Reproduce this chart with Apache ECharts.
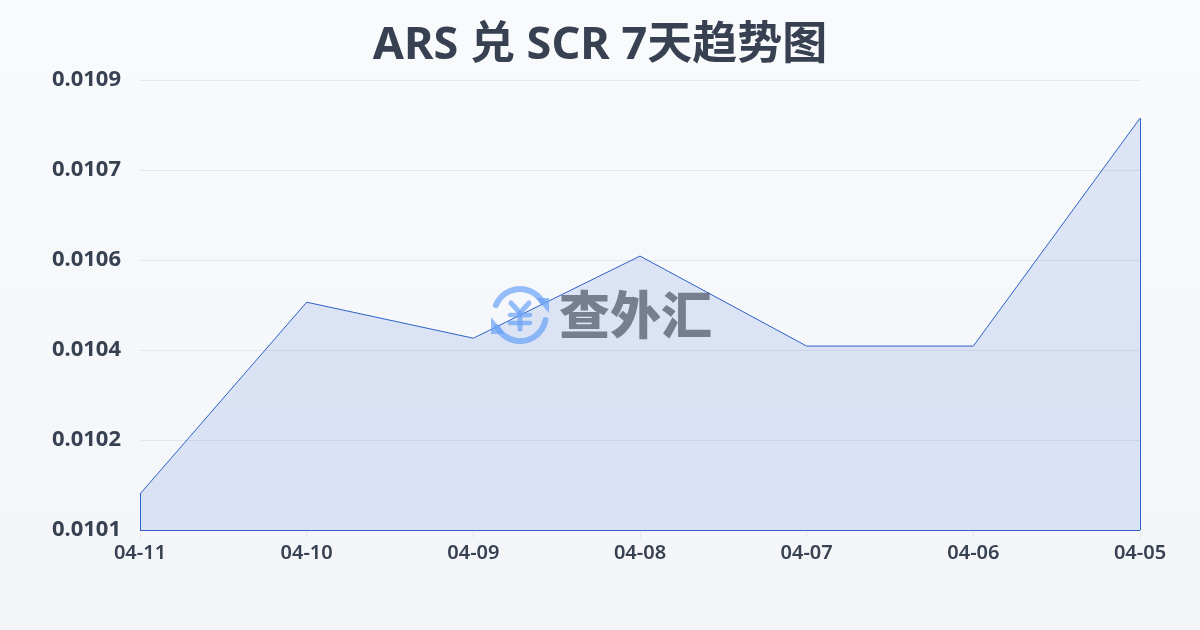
<!DOCTYPE html>
<html><head><meta charset="utf-8">
<style>html,body{margin:0;padding:0;background:#f6f7f9}#c{width:1200px;height:630px}</style>
<script src="https://cdn.jsdelivr.net/npm/echarts@6/dist/echarts.min.js"></script>
</head><body><div id="c"></div>
<script>
const titleText = 'ARS 兑 SCR 7天趋势图';
const dates = ['04-11','04-10','04-09','04-08','04-07','04-06','04-05'];
const rates = [0.010144,0.010485,0.010421,0.010567,0.010407,0.010407,0.010812];
const axisMin = 0.01008, axisMax = 0.01088, axisStep = 0.00016;
const watermark = '查外汇';
const lineColor = '#2d62c8', labelColor = '#374151';
const last = dates.length - 1;
const font = '"Noto Sans","Noto Sans CJK SC",sans-serif';
const chart = echarts.init(document.getElementById('c'), null, {renderer:'canvas'});
const iconBlue = 'rgba(105,162,247,0.7)';
chart.setOption({
  animation:false,
  backgroundColor:{type:'linear',x:0,y:0,x2:0,y2:1,colorStops:[{offset:0,color:'#f9fafc'},{offset:1,color:'#f3f5f8'}]},
  title:{text:titleText,left:'center',top:19,textStyle:{fontSize:45,fontWeight:700,color:labelColor,fontFamily:font}},
  grid:{left:140,right:60,top:80,bottom:100},
  xAxis:{type:'category',data:dates,boundaryGap:false,
    axisLine:{show:false},
    axisTick:{show:true,length:8,lineStyle:{color:'#e5e7eb'}},
    axisLabel:{color:labelColor,fontSize:20,fontWeight:600,fontFamily:font,margin:13,interval:0,hideOverlap:false}},
  yAxis:{type:'value',min:axisMin,max:axisMax,interval:axisStep,
    axisLine:{show:false},axisTick:{show:false},
    splitLine:{lineStyle:{color:'#e5e7eb',width:1}},
    axisLabel:{color:labelColor,fontSize:22,fontWeight:700,fontFamily:font,margin:19,formatter:v=>v.toFixed(4)}},
  graphic:[
    {type:'group',z:100,silent:true,children:[
      {type:'arc',z:100,shape:{cx:520,cy:315,r:26,startAngle:-2.75,endAngle:-0.55},style:{stroke:iconBlue,fill:null,lineWidth:6,lineCap:'round'}},
      {type:'arc',z:100,shape:{cx:520,cy:315,r:26,startAngle:0.2,endAngle:2.65},style:{stroke:iconBlue,fill:null,lineWidth:6,lineCap:'round'}},
      {type:'polygon',z:100,shape:{points:[[549,298],[536,298],[549,313]]},style:{fill:iconBlue}},
      {type:'polygon',z:100,shape:{points:[[491,317],[491,334],[505,334]]},style:{fill:iconBlue}},
      {type:'polyline',z:100,shape:{points:[[511,303],[520,313],[529,303]]},style:{stroke:iconBlue,fill:null,lineWidth:5,lineCap:'round'}},
      {type:'line',z:100,shape:{x1:510,y1:315,x2:530,y2:315},style:{stroke:iconBlue,lineWidth:4.5,lineCap:'round'}},
      {type:'line',z:100,shape:{x1:510,y1:323,x2:530,y2:323},style:{stroke:iconBlue,lineWidth:4.5,lineCap:'round'}},
      {type:'line',z:100,shape:{x1:520,y1:313,x2:520,y2:329},style:{stroke:iconBlue,lineWidth:5,lineCap:'round'}},
      {type:'text',z:100,style:{x:559,y:315,text:watermark,fill:'rgba(50,58,75,0.6)',font:'900 51px "Noto Sans CJK SC",sans-serif',textVerticalAlign:'middle',textAlign:'left'}}
    ]}
  ],
  series:[{
    type:'line',data:rates,symbol:'none',smooth:false,z:3,
    lineStyle:{color:lineColor,width:1},
    areaStyle:{color:'rgba(44,98,214,0.19)'},
    markLine:{silent:true,symbol:'none',label:{show:false},
      lineStyle:{color:lineColor,width:1,type:'solid'},
      data:[
        [{xAxis:dates[0],yAxis:axisMin},{xAxis:dates[0],yAxis:rates[0]}],
        [{xAxis:dates[0],yAxis:axisMin},{xAxis:dates[last],yAxis:axisMin}],
        [{xAxis:dates[last],yAxis:axisMin},{xAxis:dates[last],yAxis:rates[last]}]
      ]}
  }]
});
</script></body></html>
